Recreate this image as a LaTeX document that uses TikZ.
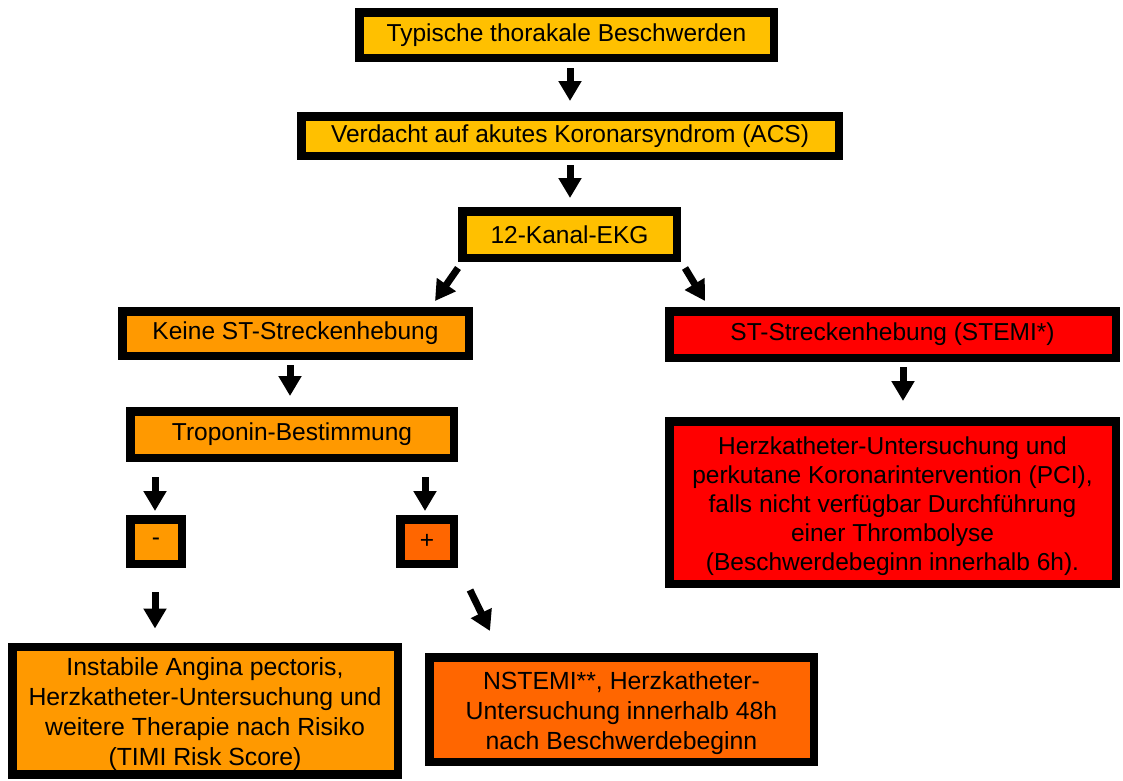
\documentclass[tikz,border=0pt]{standalone}
\usepackage{fontspec}
\setmainfont{Liberation Sans}
\usetikzlibrary{arrows.meta,calc}
\definecolor{cgold}{HTML}{FFC000}
\definecolor{corange}{HTML}{FF9900}
\definecolor{cdark}{HTML}{FF6600}
\definecolor{cred}{HTML}{FF0000}
\newcommand{\liftline}{\rule{0pt}{26pt}}
\tikzset{
  box/.style={draw=black, line width=8.5pt, inner sep=0pt, align=center,
    font=\fontsize{24.5pt}{29pt}\selectfont, text=black},
  widebox/.style={box, font=\fontsize{24.8pt}{30pt}\selectfont},
  arr/.style={line width=7pt, -{Triangle[length=20pt,width=22pt]}},
}
\begin{document}
\begin{tikzpicture}[x=1pt,y=-1pt]
\useasboundingbox (0,0) rectangle (1123,780);
\node[box, fill=cgold, minimum width=414.5pt, minimum height=45.5pt] (b1) at (566.5,35) {Typische thorakale Beschwerden};
\node[box, fill=cgold, minimum width=537.5pt, minimum height=39.5pt] (b2) at (570,136) {Verdacht auf akutes Koronarsyndrom (ACS)};
\node[box, fill=cgold, minimum width=214.5pt, minimum height=46.5pt] (b3) at (569.5,234.5) {12-Kanal-EKG};
\node[box, fill=corange, minimum width=346.5pt, minimum height=44.5pt] (b4) at (295.5,333.5) {Keine ST-Streckenhebung};
\node[box, fill=cred, minimum width=446.5pt, minimum height=46.5pt] (b5) at (892.5,334.5) {ST-Streckenhebung (STEMI*)};
\node[box, fill=corange, minimum width=323.5pt, minimum height=46.5pt] (b6) at (292,434.5) {Troponin-Bestimmung};
\node[box, fill=cred, minimum width=446.5pt, minimum height=162.5pt] (b7) at (892.5,502.5) {\liftline Herzkatheter-Untersuchung und\\perkutane Koronarintervention (PCI),\\falls nicht verfügbar Durchführung\\einer Thrombolyse\\(Beschwerdebeginn innerhalb 6h).};
\node[box, fill=corange, minimum width=51.5pt, minimum height=44.5pt] (bm) at (156,541.5) {-};
\node[box, fill=cdark, minimum width=53.5pt, minimum height=44.5pt] (bp) at (427,541.5) {+};
\node[widebox, fill=corange, minimum width=385.5pt, minimum height=127.5pt] (b8) at (205,710.5) {\liftline Instabile Angina pectoris,\\Herzkatheter-Untersuchung und\\weitere Therapie nach Risiko\\(TIMI Risk Score)};
\node[widebox, fill=cdark, minimum width=384.5pt, minimum height=104.5pt] (b9) at (621.5,709.5) {\liftline NSTEMI**, Herzkatheter-\\Untersuchung innerhalb 48h\\nach Beschwerdebeginn};
\draw[arr] ($(b1.south)+(3.5,6)$) -- ($(b2.north)+(0,-11)$);
\draw[arr] ($(b2.south)+(0,5)$) -- ($(b3.north)+(0.5,-9)$);
\draw[arr] ($(b3.south west)+(0,6)$) -- ($(b4.north east)+(-38,-6)$);
\draw[arr] ($(b3.south east)+(4,6)$) -- ($(b5.north west)+(40,-6)$);
\draw[arr] ($(b4.south)+(-5.5,5)$) -- ($(b6.north)+(-2,-11)$);
\draw[arr] ($(b5.south)+(10.5,5)$) -- ($(b7.north)+(10.5,-16)$);
\draw[arr] ($(b6.south west)+(29,15)$) -- ($(bm.north)+(-1,-4)$);
\draw[arr] ($(b6.south east)+(-33,15)$) -- ($(bp.north)+(-2,-4)$);
\draw[arr] ($(bm.south)+(-1,24)$) -- ($(b8.north)+(-50,-14)$);
\draw[arr] ($(bp.south)+(43,22)$) -- ($(b9.north)+(-131.5,-22)$);
\end{tikzpicture}
\end{document}
